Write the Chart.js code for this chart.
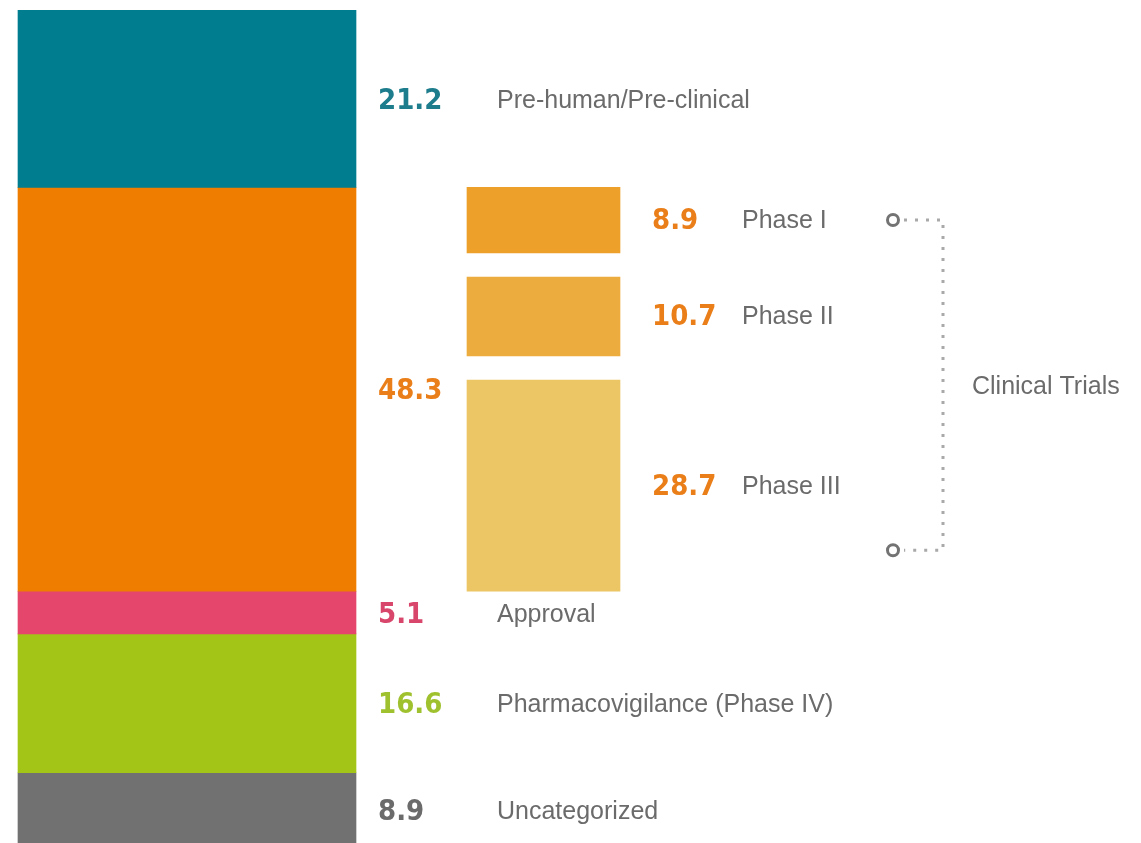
<!DOCTYPE html>
<html>
<head>
<meta charset="utf-8">
<script src="https://cdn.jsdelivr.net/npm/chart.js@4/dist/chart.umd.min.js"></script>
<style>
    html, body { margin: 0; padding: 0; background: #ffffff; }
    #wrap { width: 1141px; height: 843px; position: relative; }
</style>
</head>
<body>
<div id="wrap"><canvas id="chart"></canvas></div>
<script>
// Stages of the main column, listed top to bottom
const stageLabels = ['Pre-human/Pre-clinical', 'Clinical Trials', 'Approval', 'Pharmacovigilance (Phase IV)', 'Uncategorized'];
const stageValues = [21.2, 48.3, 5.1, 16.6, 8.9];
const stageColors = ['#007d8f', '#ee7d00', '#e4466c', '#a2c517', '#717171'];
const stageTextColors = ['#1d7d8c', '#ea7f1a', '#d8466b', '#9fc12e', '#6b6b6b'];

// Breakdown of clinical trials, listed top to bottom
const phaseLabels = ['Phase I', 'Phase II', 'Phase III'];
const phaseValues = [8.9, 10.7, 28.7];
const phaseColors = ['#eda02a', '#edad3e', '#ecc565'];

const columns = ['stages', 'phases'];

const total = stageValues.reduce((a, b) => a + b, 0);
const clinicalIndex = 1;
const phaseGap = 2.9; // space between phase blocks, in axis units

// main column: floating segments stacked from the bottom up
const stageRanges = [];
let base = 0;
for (let i = stageValues.length - 1; i >= 0; i--) {
    stageRanges[i] = [base, base + stageValues[i]];
    base += stageValues[i];
}

// phase blocks fit inside the clinical segment, leaving gaps between them
const clinicalStart = stageRanges[clinicalIndex][0];
const phaseSum = phaseValues.reduce((a, b) => a + b, 0);
const shrink = (stageValues[clinicalIndex] - phaseGap * (phaseValues.length - 1)) / phaseSum;
const phaseRanges = [];
let pBase = clinicalStart;
for (let i = phaseValues.length - 1; i >= 0; i--) {
    phaseRanges[i] = [pBase, pBase + phaseValues[i] * shrink];
    pBase += phaseValues[i] * shrink + phaseGap;
}

const datasets = [];
stageLabels.forEach((label, i) => {
    datasets.push({
        label: label,
        data: [stageRanges[i], null],
        backgroundColor: stageColors[i],
        barThickness: 338,
        grouped: false,
        borderWidth: 0,
        group: 'stage',
        index: i
    });
});
phaseLabels.forEach((label, i) => {
    datasets.push({
        label: label,
        data: [null, phaseRanges[i]],
        backgroundColor: phaseColors[i],
        barThickness: 153,
        grouped: false,
        borderWidth: 0,
        group: 'phase',
        index: i
    });
});

const labelFont = '25px "Liberation Sans Narrow", "Liberation Sans", sans-serif';
const valueFont = 'bold 29px "DejaVu Sans Condensed", "DejaVu Sans", sans-serif';
const labelColor = '#6b6b6b';

const labelPlugin = {
    id: 'segmentLabels',
    afterDatasetsDraw(chart) {
        const ctx = chart.ctx;
        ctx.save();
        ctx.textAlign = 'left';
        ctx.textBaseline = 'alphabetic';
        let phaseTop = null, phaseBottom = null, phaseRight = 0;
        chart.data.datasets.forEach((ds, di) => {
            const meta = chart.getDatasetMeta(di);
            const col = ds.group === 'stage' ? 0 : 1;
            const bar = meta.data[col];
            if (!bar) return;
            const p = bar.getProps(['x', 'y', 'base', 'width'], true);
            const right = p.x + p.width / 2;
            const cy = (p.y + p.base) / 2;
            if (ds.group === 'stage') {
                ctx.font = valueFont;
                ctx.fillStyle = stageTextColors[ds.index];
                ctx.fillText(stageValues[ds.index].toFixed(1), right + 22, cy + 10);
                if (ds.index !== clinicalIndex) {
                    ctx.font = labelFont;
                    ctx.fillStyle = labelColor;
                    ctx.fillText(ds.label, right + 141, cy + 9);
                }
            } else {
                ctx.font = valueFont;
                ctx.fillStyle = stageTextColors[clinicalIndex];
                ctx.fillText(phaseValues[ds.index].toFixed(1), right + 32, cy + 9);
                ctx.font = labelFont;
                ctx.fillStyle = labelColor;
                ctx.fillText(ds.label, right + 122, cy + 8);
                if (ds.index === 0) phaseTop = cy;
                if (ds.index === phaseValues.length - 1) phaseBottom = Math.max(p.y, p.base);
                phaseRight = right;
            }
        });

        // bracket for the clinical trials group
        if (phaseTop !== null && phaseBottom !== null) {
            const cx = phaseRight + 273;
            const lineX = phaseRight + 323;
            const y1 = phaseTop;
            const y2 = phaseBottom - 41;
            ctx.strokeStyle = '#a9a9a9';
            ctx.lineWidth = 3;
            ctx.setLineDash([3, 8]);
            ctx.beginPath();
            ctx.moveTo(cx + 11, y1);
            ctx.lineTo(lineX, y1);
            ctx.lineTo(lineX, y2);
            ctx.lineTo(cx + 11, y2);
            ctx.stroke();
            ctx.setLineDash([]);
            ctx.strokeStyle = '#737373';
            ctx.lineWidth = 3;
            [y1, y2].forEach(yy => {
                ctx.beginPath();
                ctx.arc(cx, yy, 5.5, 0, Math.PI * 2);
                ctx.fillStyle = '#ffffff';
                ctx.fill();
                ctx.stroke();
            });
            ctx.font = labelFont;
            ctx.fillStyle = labelColor;
            ctx.fillText(stageLabels[clinicalIndex], lineX + 29, (y1 + y2) / 2 + 9);
        }
        ctx.restore();
    }
};

new Chart(document.getElementById('chart'), {
    type: 'bar',
    data: {
        labels: columns,
        datasets: datasets
    },
    options: {
        responsive: true,
        maintainAspectRatio: false,
        animation: false,
        layout: {
            padding: { top: 10, bottom: 0, left: 8.75, right: 419.25 }
        },
        plugins: {
            legend: { display: false },
            tooltip: { enabled: false }
        },
        scales: {
            x: {
                display: false,
                grid: { display: false }
            },
            y: {
                display: false,
                min: 0.5,
                max: total,
                grid: { display: false }
            }
        }
    },
    plugins: [labelPlugin]
});
</script>
</body>
</html>
